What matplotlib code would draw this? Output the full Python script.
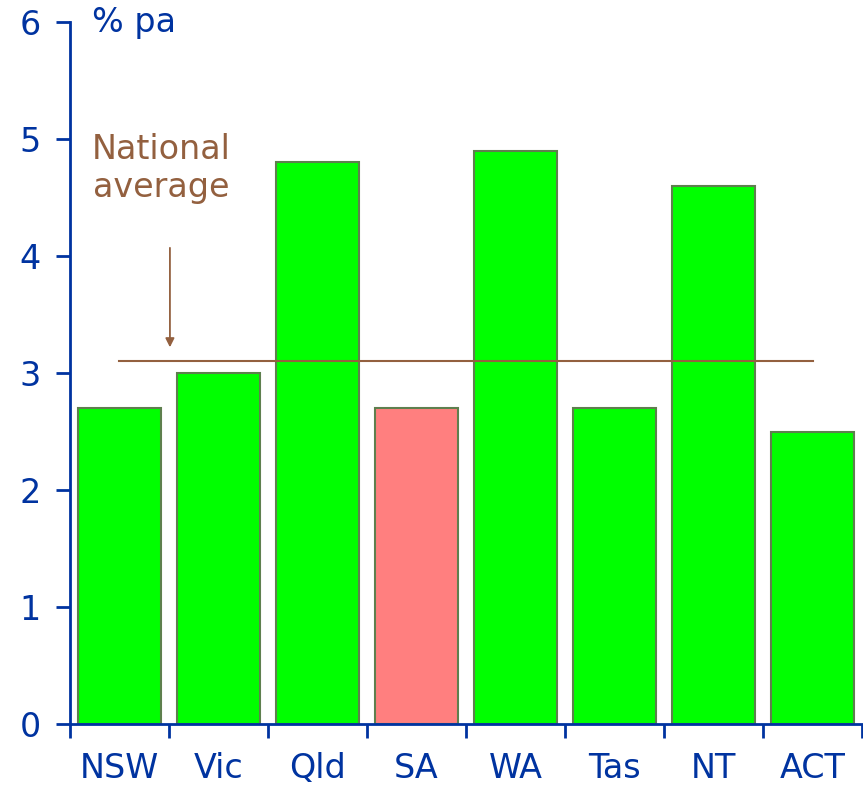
import numpy as np
import matplotlib
matplotlib.use('Agg')
import matplotlib.pyplot as plt

states = ['NSW', 'Vic', 'Qld', 'SA', 'WA', 'Tas', 'NT', 'ACT']
growth = [2.7, 3.0, 4.8, 2.7, 4.9, 2.7, 4.6, 2.5]
national_avg = 3.1
highlight = 'SA'

BLUE = '#0033A0'
BROWN = '#93603F'
GREEN = '#00FF00'
RED = '#FF7F7F'
EDGE = '#5E7F4E'
FS = 24

plt.rcParams['font.family'] = ['DejaVu Sans']

fig = plt.figure(figsize=(8.63, 7.87), dpi=100)
ax = fig.add_axes([0.081, 0.080, 0.918, 0.892])

x = np.arange(len(states))
colors = [RED if s == highlight else GREEN for s in states]
ax.bar(x, growth, width=0.84, color=colors, edgecolor=EDGE, linewidth=1.5, zorder=2)

# national average line, drawn over the bars
ax.plot([0, 7], [national_avg, national_avg], color=BROWN, lw=1.5, zorder=3)
ax.annotate('', xy=(0.51, 3.22), xytext=(0.51, 4.07),
            arrowprops=dict(arrowstyle='-|>', color=BROWN, lw=1.3,
                            mutation_scale=13, shrinkA=0, shrinkB=0))
ax.text(0.42, 4.75, 'National\naverage', color=BROWN, fontsize=FS,
        ha='center', va='center', linespacing=1.2)
ax.text(-0.28, 6.0, '% pa', color=BLUE, fontsize=FS, ha='left', va='center')

ax.set_xlim(-0.5, 7.5)
ax.set_ylim(0, 6)

for side in ('top', 'right'):
    ax.spines[side].set_visible(False)
for side in ('left', 'bottom'):
    ax.spines[side].set_color(BLUE)
    ax.spines[side].set_linewidth(2)

ax.set_yticks(range(0, 7))
ax.tick_params(axis='y', colors=BLUE, labelsize=FS, length=10, width=2,
               direction='out', pad=11)
ax.set_xticks(x)
ax.set_xticklabels(states)
ax.set_xticks(np.arange(-0.5, 8.0, 1.0), minor=True)
ax.tick_params(axis='x', which='major', colors=BLUE, labelsize=FS, length=0, pad=20)
ax.tick_params(axis='x', which='minor', colors=BLUE, length=10, width=2, direction='out')

fig.savefig('out.png', dpi=100)
